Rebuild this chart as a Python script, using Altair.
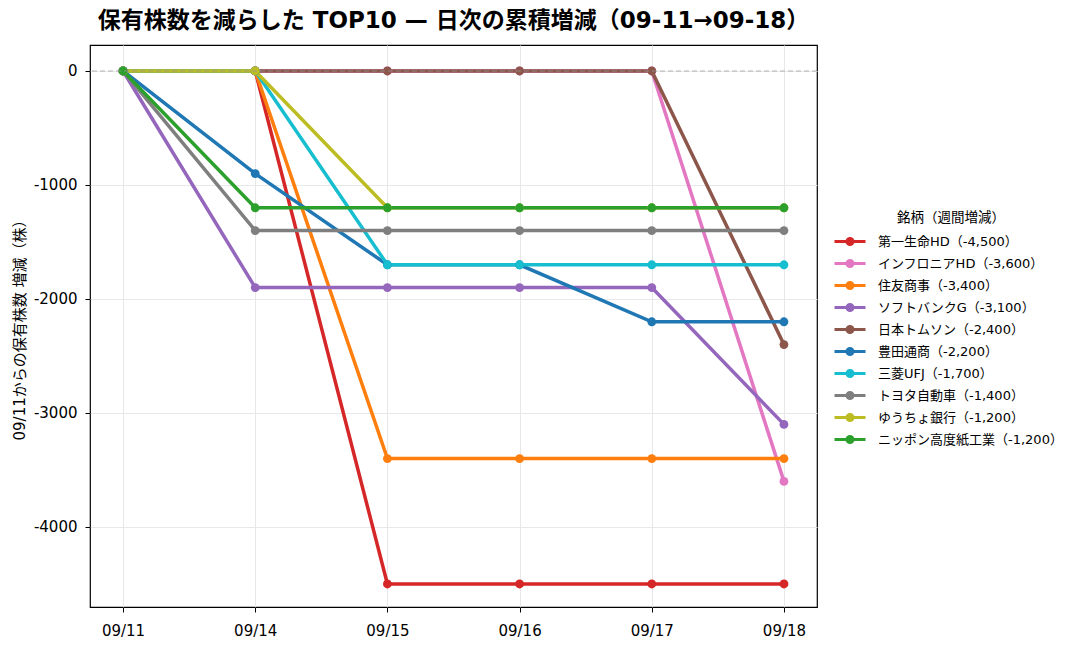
import math

import altair as alt
import pandas as pd

dates = ["09/11", "09/14", "09/15", "09/16", "09/17", "09/18"]

names = [
    "第一生命HD",
    "インフロニアHD",
    "住友商事",
    "ソフトバンクG",
    "日本トムソン",
    "豊田通商",
    "三菱UFJ",
    "トヨタ自動車",
    "ゆうちょ銀行",
    "ニッポン高度紙工業",
]

series = [
    [0, 0, -4500, -4500, -4500, -4500],
    [0, 0, 0, 0, 0, -3600],
    [0, 0, -3400, -3400, -3400, -3400],
    [0, -1900, -1900, -1900, -1900, -3100],
    [0, 0, 0, 0, 0, -2400],
    [0, -900, -1700, -1700, -2200, -2200],
    [0, 0, -1700, -1700, -1700, -1700],
    [0, -1400, -1400, -1400, -1400, -1400],
    [0, 0, -1200, -1200, -1200, -1200],
    [0, -1200, -1200, -1200, -1200, -1200],
]

colors = [
    "#d62728",
    "#e377c2",
    "#ff7f0e",
    "#9467bd",
    "#8c564b",
    "#1f77b4",
    "#17becf",
    "#7f7f7f",
    "#bcbd22",
    "#2ca02c",
]

FONT = "DejaVu Sans, Noto Sans CJK JP"

labels = [f"{n}（{vals[-1] - vals[0]:,}）" for n, vals in zip(names, series)]

rows = []
for i, (lab, vals) in enumerate(zip(labels, series)):
    for d, v in zip(dates, vals):
        rows.append({"銘柄": lab, "日付": d, "増減": v, "idx": i})
data = pd.DataFrame(rows)

# legend glyph: short line with a dot in the middle (like matplotlib)
circ = " ".join(
    f"{'M' if k == 0 else 'L'}{0.41 * math.cos(k * math.pi / 8):.3f},{0.41 * math.sin(k * math.pi / 8):.3f}"
    for k in range(16)
)
glyph = f"M-1.41,-0.145L1.41,-0.145L1.41,0.145L-1.41,0.145Z {circ}Z"

x_enc = alt.X(
    "日付:O",
    sort=dates,
    scale=alt.Scale(type="point", padding=0.25),
    axis=alt.Axis(
        title=None, labelAngle=0, labelFontSize=15, labelPadding=11,
        grid=True, tickSize=5, domain=False,
    ),
)
y_enc = alt.Y(
    "増減:Q",
    scale=alt.Scale(domain=[-4702, 228], nice=False, zero=False),
    axis=alt.Axis(
        title="09/11からの保有株数 増減（株）", values=[-4000, -3000, -2000, -1000, 0],
        labelExpr="'' + datum.value", labelFontSize=15, titleFontSize=15,
        titleFontWeight="normal", titlePadding=6, tickSize=5, labelPadding=8,
        domain=False, grid=True,
    ),
)
color_scale = alt.Scale(domain=labels, range=colors)

base = alt.Chart(data)

lines = base.mark_line(strokeWidth=3.5).encode(
    x=x_enc,
    y=y_enc,
    color=alt.Color("銘柄:N", scale=color_scale, legend=None),
    order="idx:Q",
)

points = base.mark_point(filled=True, size=78, opacity=1).encode(
    x=x_enc,
    y=y_enc,
    color=alt.Color(
        "銘柄:N",
        scale=color_scale,
        legend=alt.Legend(
            title="銘柄（週間増減）", orient="none", legendX=749, legendY=166,
            symbolType=glyph, symbolSize=484, symbolStrokeWidth=0,
            labelFontSize=13, titleFontSize=13.5, titleFontWeight="normal",
            titleAnchor="middle", labelOffset=17, rowPadding=4, titlePadding=6,
            labelLimit=300,
        ),
    ),
    order="idx:Q",
)

zero = (
    alt.Chart(pd.DataFrame({"y": [0]}))
    .mark_rule(color="#999999", strokeDash=[5, 3], strokeWidth=1.2, opacity=0.7)
    .encode(y="y:Q")
)

chart = (
    alt.layer(lines, points, zero)
    .resolve_legend(color="independent")
    .properties(
        width=727,
        height=562,
        autosize=alt.AutoSizeParams(type="none"),
        padding={"left": 82, "top": 37, "right": 250, "bottom": 36},
        title=alt.TitleParams(
            "保有株数を減らした TOP10 — 日次の累積増減（09-11→09-18）",
            fontSize=23, fontWeight="bold", anchor="middle", offset=12, font=FONT,
        ),
    )
    .configure(font=FONT)
    .configure_view(stroke="black", strokeWidth=1.2)
    .configure_axis(gridColor="#e8e8e8", labelColor="black", titleColor="black", tickColor="black", labelFont=FONT, titleFont=FONT)
    .configure_legend(labelFont=FONT, titleFont=FONT, labelColor="black", titleColor="black")
)

chart.save("out.html", embed_options={"renderer": "svg", "actions": False})
